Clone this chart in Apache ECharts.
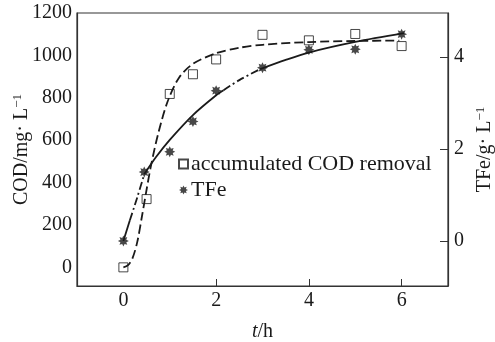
<!DOCTYPE html>
<html>
<head>
<meta charset="utf-8">
<script src="https://cdn.jsdelivr.net/npm/echarts@6/dist/echarts.min.js"></script>
<style>
html, body { margin: 0; padding: 0; background: #fff; }
#chart { width: 495px; height: 342px; }
</style>
</head>
<body>
<div id="chart"></div>
<script>
// measured points
const codT = [0, 0.5, 1, 1.5, 2, 3, 4, 5, 6];
const codRemoval = [0, 322, 818, 911, 981, 1097, 1071, 1101, 1044];
const tfeT = [0, 0.45, 1, 1.5, 2, 3, 4, 5, 6];
const tfeValue = [0, 1.5, 1.94, 2.6, 3.27, 3.77, 4.16, 4.17, 4.5];

// fitted curves
const codFit = [[0, 0], [0.1, 10], [0.2, 45], [0.3, 120], [0.4, 240], [0.5, 366], [0.6, 485],
	[0.75, 630], [0.95, 780], [1.2, 895], [1.5, 960], [2, 1010], [2.5, 1036], [3, 1050],
	[4, 1063], [5, 1068], [5.95, 1070]];
// TFe fit is drawn partly solid, partly dash-dot
const tfeFitSolid1 = [[0, 0], [0.14, 0.45]];
const tfeFitDash1 = [[0.14, 0.45], [0.3, 0.95], [0.45, 1.45]];
const tfeFitSolid2 = [[0.45, 1.45], [0.7, 1.82], [1, 2.2], [1.5, 2.74], [2, 3.17], [2.16, 3.28]];
const tfeFitDash2 = [[2.16, 3.28], [2.5, 3.5], [2.95, 3.74]];
const tfeFitSolid3 = [[2.95, 3.74], [3.5, 3.94], [4, 4.1], [5, 4.33], [6.05, 4.52]];

const xTicks = [0, 2, 4, 6];
const codTicks = [0, 200, 400, 600, 800, 1000, 1200];
const tfeTicks = [0, 2, 4];

const font = 'Liberation Serif';
const ink = '#1a1a1a';

// 8-spoke asterisk marker
let starPath = 'path://';
for (let i = 0; i < 16; i++) {
	const a = -Math.PI / 2 + i * Math.PI / 8;
	const r = i % 2 === 0 ? 10 : 5.8;
	starPath += (i === 0 ? 'M' : 'L') + (10 + r * Math.cos(a)).toFixed(2) + ',' + (10 + r * Math.sin(a)).toFixed(2);
}
starPath += 'Z';

const pair = (ts, vs) => ts.map((t, i) => [t, vs[i]]);
const plain = v => String(v);

const fitLine = (data, yIdx, type) => ({
	type: 'line',
	yAxisIndex: yIdx,
	data: data,
	smooth: 0.3,
	symbol: 'none',
	silent: true,
	z: 2,
	lineStyle: { color: ink, width: 1.8, type: type }
});

const chart = echarts.init(document.getElementById('chart'));
chart.setOption({
	animation: false,
	backgroundColor: '#fff',
	grid: {
		left: 77, right: 47, top: 13, bottom: 56,
		outerBoundsMode: 'none',
		containLabel: false,
		show: true, borderColor: '#333', borderWidth: 1.2
	},
	legend: {
		data: [
			{ name: 'accumulated COD removal', icon: 'rect' },
			{ name: 'TFe', icon: starPath }
		],
		orient: 'vertical',
		left: 178,
		top: 153,
		padding: 0,
		itemGap: 4,
		itemWidth: 9,
		itemHeight: 9,
		textStyle: { fontFamily: font, fontSize: 22, color: ink, padding: [0, 0, 0, -2] }
	},
	xAxis: {
		type: 'value',
		min: -1, max: 7,
		name: '{i|t}/h',
		nameLocation: 'middle',
		nameGap: 36,
		nameMoveOverlap: false,
		nameTextStyle: {
			fontFamily: font, fontSize: 20, color: ink,
			rich: { i: { fontFamily: font, fontSize: 20, fontStyle: 'italic', color: ink } }
		},
		axisLine: { onZero: false, lineStyle: { color: '#333', width: 1.2 } },
		axisTick: { show: true, inside: true, length: 7, customValues: [2, 4, 6], lineStyle: { color: '#333' } },
		axisLabel: { customValues: xTicks, formatter: plain, fontFamily: font, fontSize: 20, color: ink, margin: 5 },
		splitLine: { show: false }
	},
	yAxis: [{
		type: 'value',
		min: -88, max: 1200,
		name: 'COD/mg· L{sup|−1}',
		nameLocation: 'middle',
		nameGap: 44,
		nameRotate: 90,
		nameMoveOverlap: false,
		nameTextStyle: {
			fontFamily: font, fontSize: 20, color: ink,
			rich: { sup: { fontFamily: font, fontSize: 13, color: ink, padding: [0, 0, 9, 0] } }
		},
		axisLine: { show: true, onZero: false, lineStyle: { color: '#333', width: 1.2 } },
		axisTick: { show: false },
		axisLabel: { customValues: codTicks, formatter: plain, fontFamily: font, fontSize: 20, color: ink, margin: 5 },
		splitLine: { show: false }
	}, {
		type: 'value',
		position: 'right',
		min: -0.98, max: 4.96,
		name: 'TFe/g· L{sup|−1}',
		nameLocation: 'middle',
		nameGap: 26,
		nameRotate: 90,
		nameMoveOverlap: false,
		nameTextStyle: {
			fontFamily: font, fontSize: 20, color: ink,
			rich: { sup: { fontFamily: font, fontSize: 13, color: ink, padding: [0, 0, 9, 0] } }
		},
		axisLine: { show: true, onZero: false, lineStyle: { color: '#333', width: 1.2 } },
		axisTick: { show: true, inside: true, length: 8, customValues: tfeTicks, lineStyle: { color: '#333' } },
		axisLabel: { customValues: tfeTicks, formatter: plain, fontFamily: font, fontSize: 20, color: ink, margin: 6 },
		splitLine: { show: false }
	}],
	series: [
		fitLine(codFit, 0, [9, 4]),
		fitLine(tfeFitSolid1, 1, 'solid'),
		fitLine(tfeFitDash1, 1, [8, 3, 2, 3]),
		fitLine(tfeFitSolid2, 1, 'solid'),
		fitLine(tfeFitDash2, 1, [8, 3, 2, 3]),
		fitLine(tfeFitSolid3, 1, 'solid'),
		{
			name: 'accumulated COD removal',
			type: 'scatter',
			yAxisIndex: 0,
			data: pair(codT, codRemoval),
			symbol: 'rect',
			symbolSize: 9,
			z: 5,
			itemStyle: { color: 'rgba(255,255,255,0)', borderColor: ink, borderWidth: 1 }
		},
		{
			name: 'TFe',
			type: 'scatter',
			yAxisIndex: 1,
			data: pair(tfeT, tfeValue),
			symbol: starPath,
			symbolSize: 11,
			z: 5,
			itemStyle: { color: ink }
		}
	]
});
</script>
</body>
</html>
